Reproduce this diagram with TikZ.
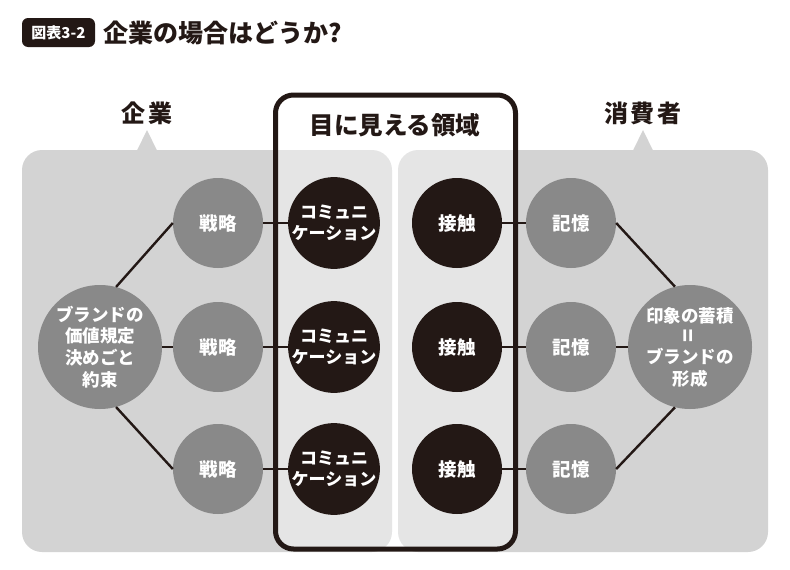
\documentclass[tikz,border=0pt]{standalone}
\usepackage{fontspec}
\setmainfont{Noto Sans CJK JP}
\usepackage{tikz}
\usetikzlibrary{positioning, shapes, calc}
\definecolor{inkblack}{HTML}{231815}
\definecolor{panelgray}{HTML}{D3D3D3}
\definecolor{midgray}{HTML}{898989}

\begin{document}
\begin{tikzpicture}[x=1pt, y=1pt,
    panel/.style={fill=panelgray, rounded corners=20pt},
    strat/.style={circle, fill=midgray, text=white, minimum size=90pt, inner sep=0pt, align=center, font=\bfseries\fontsize{18.5}{20}\selectfont},
    talk/.style={strat, fill=inkblack, font=\bfseries\fontsize{17}{20.5}\selectfont},
    touch/.style={strat, fill=inkblack},
    hub/.style={strat, minimum size=124pt, font=\bfseries\fontsize{17.5}{21.7}\selectfont},
    heading/.style={text=inkblack, font=\bfseries\fontsize{24}{28}\selectfont},
    link/.style={draw=inkblack, line width=2.4pt}
  ]
    \useasboundingbox (0,0) rectangle (790,-570);

    % Title
    \node[fill=inkblack, text=white, rounded corners=6pt, minimum width=73pt, minimum height=29pt, inner sep=0pt, font=\bfseries\fontsize{15}{17}\selectfont] (badge) at (58.5,-32.5) {図表3-2};
    \node[right=8pt of badge, inner sep=0pt, text=inkblack, font=\bfseries\fontsize{25}{30}\selectfont] (title) {企業の場合はどうか?};

    % Panels
    \fill[panel] (22,-150) rectangle (392,-552);
    \fill[panelgray] (137,-150.5) -- (147,-130) -- (157,-150.5) -- cycle;
    \fill[panel] (398,-150) rectangle (768,-552);
    \fill[panelgray] (633,-150.5) -- (643,-130) -- (653,-150.5) -- cycle;

    % Visible area frame
    \draw[draw=inkblack, fill=white, fill opacity=0.43, line width=5pt, rounded corners=18pt] (275.5,-95) rectangle (515.5,-549);

    % Headings
    \node[heading] (company) at (147,-113) {\addfontfeature{LetterSpace=12}企業\hspace{-2.9pt}};
    \node[heading, font=\bfseries\fontsize{24.5}{28}\selectfont] (visible) at (395,-125) {目に見える領域};
    \node[heading] (consumer) at (643,-113) {\addfontfeature{LetterSpace=12}消費者\hspace{-2.9pt}};

    % Company side
    \node[hub] (hubL) at (100,-347) {ブランドの\\価値規定\\決めごと\\約束};
    \node[strat] (str1) at (218,-223) {戦略};
    \node[strat] (str2) at (218,-347) {戦略};
    \node[strat] (str3) at (218,-469) {戦略};

    % Communication
    \node[talk] (com1) at (334,-223) {コミュニ\\ケーション};
    \node[talk] (com2) at (334,-347) {コミュニ\\ケーション};
    \node[talk] (com3) at (334,-469) {コミュニ\\ケーション};

    % Contact
    \node[touch] (tch1) at (457,-223) {接触};
    \node[touch] (tch2) at (457,-347) {接触};
    \node[touch] (tch3) at (457,-469) {接触};

    % Consumer side
    \node[strat] (mem1) at (571,-223) {記憶};
    \node[strat] (mem2) at (571,-347) {記憶};
    \node[strat] (mem3) at (571,-469) {記憶};
    \node[hub] (hubR) at (690,-347) {印象の蓄積\\[-1pt]\rotatebox{90}{\fontsize{22}{22}\selectfont =}\\[-1pt]ブランドの\\形成};

    % Links
    \draw[link] (hubL.75) -- (str1.west);
    \draw[link] (hubL.east) -- (str2.west);
    \draw[link] (hubL.-75) -- (str3.west);
    \draw[link] (str1) -- (com1);
    \draw[link] (str2) -- (com2);
    \draw[link] (str3) -- (com3);
    \draw[link] (tch1) -- (mem1);
    \draw[link] (tch2) -- (mem2);
    \draw[link] (tch3) -- (mem3);
    \draw[link] (mem1.east) -- (hubR.104);
    \draw[link] (mem2.east) -- (hubR.west);
    \draw[link] (mem3.east) -- (hubR.-104);

  \end{tikzpicture}
\end{document}
